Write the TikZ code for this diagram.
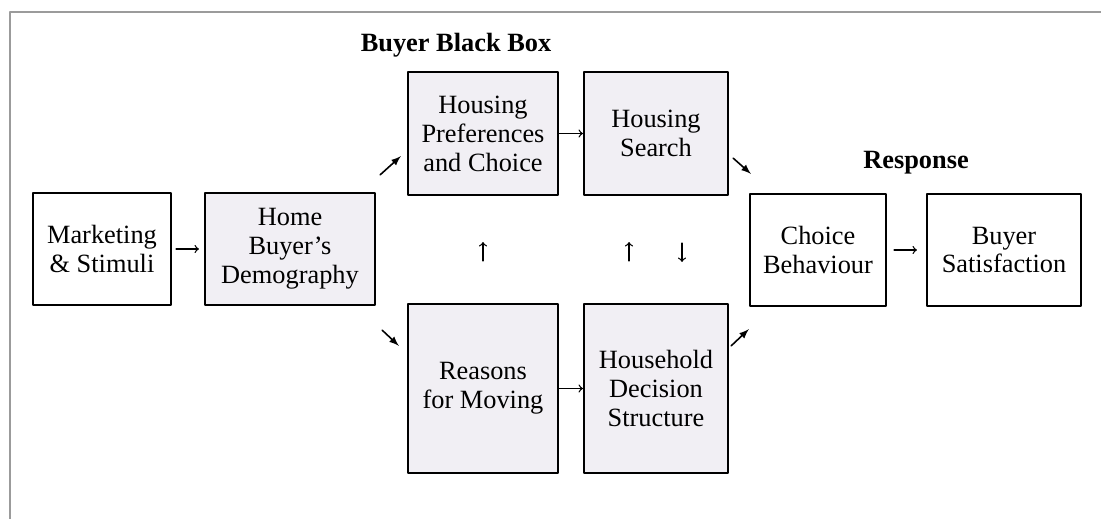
\documentclass[tikz,border=0pt]{standalone}
\usepackage{fontspec}
\setmainfont{Liberation Serif}
\usetikzlibrary{arrows,calc}

\definecolor{boxgray}{RGB}{241,239,244}
\definecolor{framegray}{RGB}{155,155,155}

\begin{document}
\begin{tikzpicture}[x=0.02cm,y=-0.02cm,line cap=round,line join=round,
  box/.style={draw,line width=1.3pt,align=center,inner sep=0pt,
    font=\fontsize{15}{16.5}\selectfont},
  arr/.style={->,>=to,line width=0.75pt},
  darr/.style={-latex,line width=0.9pt},
  head/.style={font=\fontsize{15}{16.5}\selectfont\bfseries}]
\useasboundingbox (0,0) rectangle (1101,519);
% frame
\draw [framegray,line width=0.8pt] (10,519) -- (10,12) -- (1101,12);
% boxes
\node[box,minimum width=2.76cm,minimum height=2.24cm] (mkt) at (102,249) {Marketing\\\& Stimuli};
\node[box,fill=boxgray,minimum width=3.4cm,minimum height=2.24cm] (home) at (290,249) {Home\\Buyer's\\Demography};
\node[box,fill=boxgray,minimum width=3cm,minimum height=2.46cm] (pref) at (483,133.5) {Housing\\Preferences\\and Choice};
\node[box,fill=boxgray,minimum width=2.88cm,minimum height=2.46cm] (search) at (656,133.5) {Housing\\Search};
\node[box,fill=boxgray,minimum width=3cm,minimum height=3.38cm] (reasons) at (483,388.5) {Reasons\\for Moving};
\node[box,fill=boxgray,minimum width=2.88cm,minimum height=3.38cm] (household) at (656,388.5) {Household\\Decision\\Structure};
\node[box,minimum width=2.72cm,minimum height=2.24cm] (choice) at (818,250) {Choice\\Behaviour};
\node[box,minimum width=3.08cm,minimum height=2.24cm] (satis) at (1004,250) {Buyer\\Satisfaction};
% headings
\node[head] (bbox) at (456,45) {Buyer Black Box};
\node[head] (resp) at (916,163) {Response};
% arrows
\draw [arr,shorten <=0.08cm,shorten >=0.1cm] (mkt) -- (home);
\draw [arr] (pref) -- (search);
\draw [arr] (reasons) -- (household);
\draw [arr,shorten <=0.14cm,shorten >=0.18cm] (choice) -- (satis);
\draw [darr] ($(home.north east)+(4,-17)$) -- ($(pref.south west)+(-6,-40)$);
\draw [darr] ($(home.south east)+(6,24)$) -- ($(reasons.north west)+(-8,43)$);
\draw [darr] ($(search.south east)+(4,-38)$) -- ($(choice.north west)+(2,-19)$);
\draw [darr] ($(household.north east)+(2,43)$) -- ($(choice.south west)+(0,22)$);
\draw [arr,shorten <=0.84cm,shorten >=0.92cm] (reasons.north) -- (pref.south);
\draw [arr,shorten <=0.84cm,shorten >=0.92cm] ([xshift=-0.54cm]household.north) -- ([xshift=-0.54cm]search.south);
\draw [arr,shorten <=0.94cm,shorten >=0.82cm] ([xshift=0.52cm]search.south) -- ([xshift=0.52cm]household.north);
\end{tikzpicture}
\end{document}
